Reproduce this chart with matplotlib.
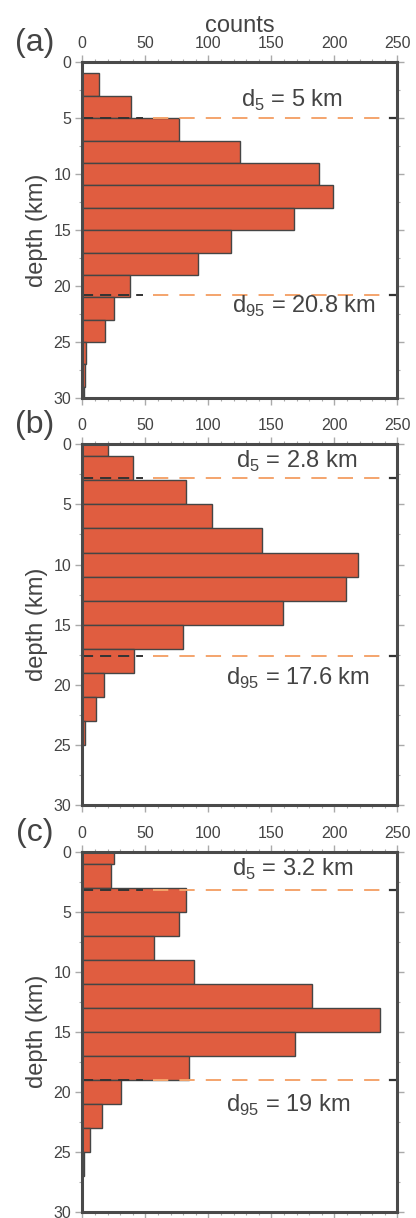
import matplotlib
matplotlib.use("Agg")
import matplotlib.pyplot as plt
from matplotlib.ticker import MultipleLocator

plt.rcParams["font.family"] = ["Liberation Sans", "DejaVu Sans"]
plt.rcParams["mathtext.fontset"] = "custom"
plt.rcParams["mathtext.rm"] = "Liberation Sans"
plt.rcParams["lines.scale_dashes"] = False

# 2 km depth bins (centres), counts per panel
depth_bins = [0, 2, 4, 6, 8, 10, 12, 14, 16, 18, 20, 22, 24, 26, 28, 30]
counts_a = [0, 13, 39, 77, 125, 188, 199, 168, 118, 92, 38, 25, 18, 3, 2, 1]
counts_b = [20, 40, 82, 103, 143, 219, 209, 159, 80, 41, 17, 11, 2, 0, 0, 0]
counts_c = [25, 23, 82, 77, 57, 89, 182, 236, 169, 85, 31, 16, 6, 1, 0, 0]

panel_labels = ["(a)", "(b)", "(c)"]
d5 = [5, 2.8, 3.2]
d95 = [20.8, 17.6, 19]
d5_text = ["5", "2.8", "3.2"]
d95_text = ["20.8", "17.6", "19"]

TXT = "#444444"
BAR = "#E05D40"
EDGE = "#454545"
TICK = "#aaaaaa"
ORANGE = "#F4A46C"

fig = plt.figure(figsize=(4.16, 12.18), dpi=100)
W, H = 416, 1218
boxes = [(62.3, 398.0), (444.3, 805.0), (851.7, 1211.7)]
text_pos = [((166, 3.4), (176, 21.8)), ((170, 1.45), (171, 19.5)), ((167, 1.5), (163, 21.1))]

for i, counts in enumerate([counts_a, counts_b, counts_c]):
    top, bot = boxes[i]
    ax = fig.add_axes([82.3 / W, 1 - bot / H, 315 / W, (bot - top) / H])
    ax.barh(depth_bins, counts, height=2, left=0, color=BAR, edgecolor=EDGE,
            linewidth=1.0, zorder=2)
    ax.set_xlim(0, 250)
    ax.set_ylim(30, 0)

    # percentile lines
    for d in (d5[i], d95[i]):
        ax.plot([0, 48], [d, d], color="#333333", lw=1.4, dashes=(8, 5), zorder=3)
        ax.plot([56, 238], [d, d], color=ORANGE, lw=1.4, dashes=(11, 8), zorder=3)
        ax.plot([244, 250], [d, d], color="#333333", lw=1.6, zorder=3,
                clip_on=False)

    (x5, y5), (x95, y95) = text_pos[i]
    ax.text(x5, y5, r"d$_{5}$ = %s km" % d5_text[i], ha="center", va="center",
            fontsize=17, color=TXT)
    ax.text(x95, y95, r"d$_{95}$ = %s km" % d95_text[i], ha="center", va="center",
            fontsize=17, color=TXT)

    ax.xaxis.set_major_locator(MultipleLocator(50))
    ax.xaxis.set_minor_locator(MultipleLocator(10))
    ax.yaxis.set_major_locator(MultipleLocator(5))
    ax.yaxis.set_minor_locator(MultipleLocator(2.5))
    ax.tick_params(which="both", direction="out", color=TICK, top=True, right=True,
                   bottom=True, left=True, labeltop=True, labelbottom=False,
                   labelleft=True, labelright=False)
    ax.tick_params(which="major", length=5, width=1.0, labelsize=11.5,
                   labelcolor=TXT, pad=3)
    ax.tick_params(which="minor", length=2.5, width=0.8)
    for sp in ax.spines.values():
        sp.set_color("#4a4a4a")
        sp.set_linewidth(2.2)
        sp.set_zorder(5)

    ax.set_ylabel("depth (km)", fontsize=17, color=TXT, labelpad=4)
    if i == 0:
        ax.xaxis.set_label_position("top")
        ax.set_xlabel("counts", fontsize=17, color=TXT, labelpad=3)

    fig.text(35 / W, 1 - (top - 19) / H, panel_labels[i], ha="center", va="center",
             fontsize=23, color=TXT)

fig.savefig("out.png", dpi=100)
